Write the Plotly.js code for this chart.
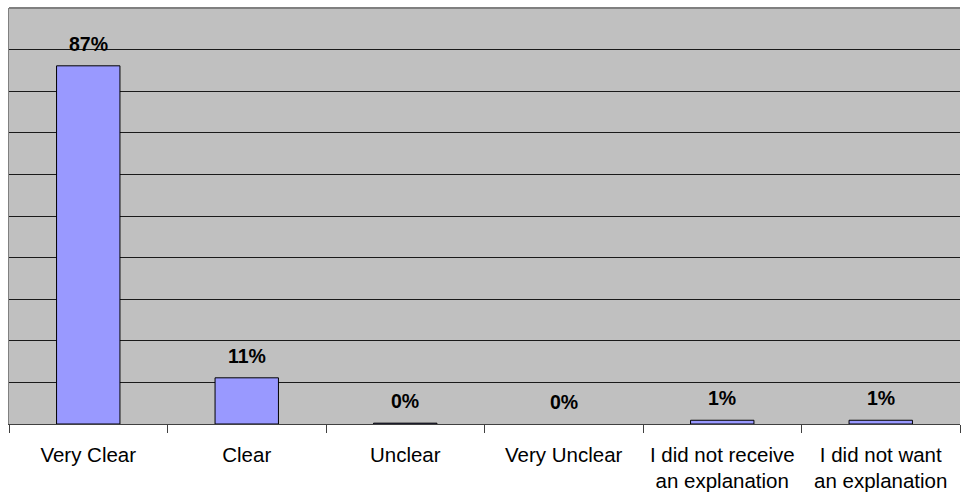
<!DOCTYPE html>
<html>
<head>
<meta charset="utf-8">
<script src="https://cdn.plot.ly/plotly-3.0.1.min.js"></script>
<style>
html,body{margin:0;padding:0;background:#fff;}
#chart{width:961px;height:494px;}
</style>
</head>
<body>
<div id="chart"></div>
<script>
// Data
var categories = ["Very Clear", "Clear", "Unclear", "Very Unclear", "I did not receive<br>an explanation", "I did not want<br>an explanation"];
var values = [0.861, 0.111, 0.002, 0, 0.009, 0.009];
var valueLabels = ["87%", "11%", "0%", "0%", "1%", "1%"];
var outlineWidths = [1, 1, 1, 0, 1, 1];

var trace = {
  type: 'bar',
  x: categories,
  y: values,
  marker: {color: '#9999FF', line: {color: '#000000', width: outlineWidths}},
  hoverinfo: 'none'
};

var annotations = categories.map(function(c, i){
  return {
    x: c, y: values[i], xref: 'x', yref: 'y',
    text: '<b>' + valueLabels[i] + '</b>',
    showarrow: false, yanchor: 'middle', yshift: 22,
    font: {family: 'Liberation Sans, Arial, sans-serif', size: 19.5, color: '#000'}
  };
});

var layout = {
  width: 961, height: 494,
  margin: {l: 9, r: 1, t: 8, b: 70},
  paper_bgcolor: '#ffffff',
  plot_bgcolor: '#C0C0C0',
  showlegend: false,
  bargap: 0.6,
  font: {family: 'Liberation Sans, Arial, sans-serif', size: 20.5, color: '#000'},
  xaxis: {
    type: 'category',
    tickson: 'boundaries',
    ticks: 'outside', ticklen: 8, tickcolor: '#404040', tickwidth: 1,
    ticklabelstandoff: 12,
    showline: true, linecolor: '#404040', linewidth: 1,
    showgrid: false,
    tickfont: {family: 'Liberation Sans, Arial, sans-serif', size: 20.5, color: '#000'},
    fixedrange: true
  },
  yaxis: {
    range: [0, 1], dtick: 0.1, tick0: 0,
    showticklabels: false, ticks: '',
    showgrid: true, gridcolor: '#1a1a1a', gridwidth: 1,
    zeroline: false,
    showline: true, linecolor: '#808080', linewidth: 1,
    fixedrange: true
  },
  shapes: [
    {type: 'line', xref: 'paper', yref: 'paper', x0: 0, x1: 1, y0: 1, y1: 1,
     line: {color: '#808080', width: 2}, layer: 'above'}
  ],
  annotations: annotations
};

Plotly.newPlot('chart', [trace], layout, {displayModeBar: false, staticPlot: true});
</script>
</body>
</html>
